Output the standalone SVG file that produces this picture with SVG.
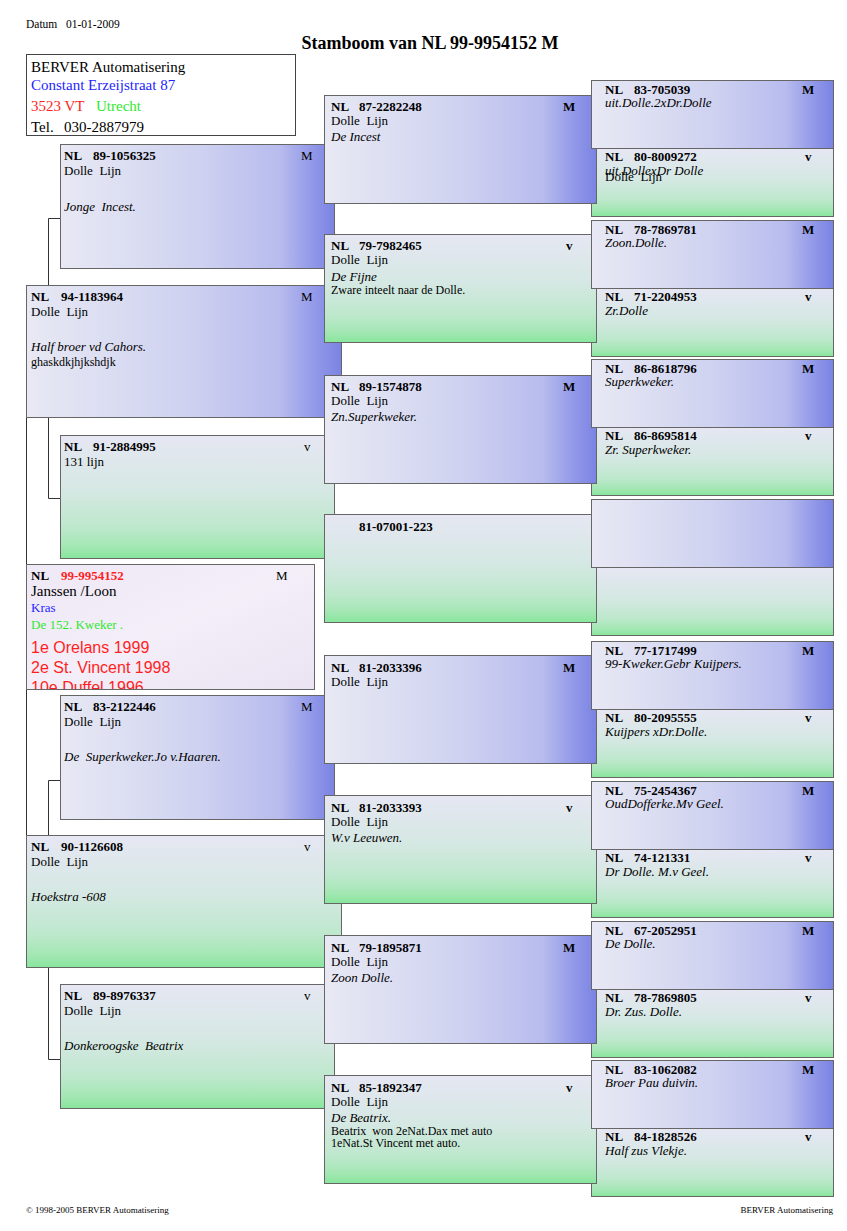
<svg xmlns="http://www.w3.org/2000/svg" width="847" height="1231" viewBox="0 0 847 1231">
<style>
.t{font-family:"Liberation Serif","Times New Roman",serif;font-size:13px;fill:#000}
.b{font-weight:bold}
.i{font-style:italic}
.s{font-size:12px}
.box{stroke:#666;stroke-width:1}
.m{fill:url(#gM)}
.v{fill:url(#gV)}
.con{fill:none;stroke:#333;stroke-width:1}
</style>
<defs>
<linearGradient id="gM" x1="0" y1="0" x2="1" y2="0">
<stop offset="0" stop-color="#e8e9f4"/>
<stop offset="0.5" stop-color="#cfd2f0"/>
<stop offset="0.8" stop-color="#b8bcee"/>
<stop offset="0.92" stop-color="#9198e8"/>
<stop offset="1" stop-color="#7a83e3"/>
</linearGradient>
<linearGradient id="gV" x1="0" y1="0" x2="0" y2="1">
<stop offset="0" stop-color="#e6e7f3"/>
<stop offset="0.45" stop-color="#d5e8e3"/>
<stop offset="0.75" stop-color="#bde8cc"/>
<stop offset="0.9" stop-color="#a4e7b4"/>
<stop offset="1" stop-color="#88e69c"/>
</linearGradient>
<linearGradient id="gS" x1="0" y1="0" x2="1" y2="1">
<stop offset="0" stop-color="#efe8f6"/>
<stop offset="0.5" stop-color="#f3eef8"/>
<stop offset="1" stop-color="#ebe3f3"/>
</linearGradient>
<clipPath id="clipS"><rect x="26" y="564" width="289" height="125"/></clipPath>
</defs>
<rect width="847" height="1231" fill="#fff"/>

<text class="t" x="26" y="28" style="font-size:11.5px">Datum</text>
<text class="t" x="66" y="28" style="font-size:11.5px">01-01-2009</text>
<text class="t b" x="430" y="49" text-anchor="middle" style="font-size:18px">Stamboom van NL 99-9954152 M</text>

<g id="address">
<rect x="26.5" y="54.5" width="269" height="81" fill="#fff" stroke="#444"/>
<text class="t" x="31" y="72" style="font-size:15px">BERVER Automatisering</text>
<text class="t" x="31" y="90" style="font-size:15px;fill:#1f1fff">Constant Erzeijstraat 87</text>
<text class="t" x="31" y="111" style="font-size:15px;fill:#ff1f1f">3523 VT</text>
<text class="t" x="96" y="111" style="font-size:15px;fill:#2ee82e">Utrecht</text>
<text class="t" x="31" y="132" style="font-size:15px">Tel.</text>
<text class="t" x="64" y="132" style="font-size:15px">030-2887979</text>
</g>

<g id="connectors">
<path class="con" d="M60,218.5 H48.5 V498.5 H60"/>
<path class="con" d="M60,780.5 H48.5 V1059.5 H60"/>
<path class="con" d="M26.5,351 V901"/>
</g>

<!-- generation 2 -->
<g id="n-94-1183964">
<rect class="box m" x="26.5" y="285.5" width="315" height="132"/>
<text class="t b" x="31" y="301">NL</text><text class="t b" x="61" y="301">94-1183964</text><text class="t" x="301" y="301">M</text>
<text class="t" x="31" y="316">Dolle&#160; Lijn</text>
<text class="t i" x="31" y="351">Half broer vd Cahors.</text>
<text class="t s" x="31" y="366">ghaskdkjhjkshdjk</text>
</g>
<g id="n-90-1126608">
<rect class="box v" x="26.5" y="835.5" width="315" height="132"/>
<text class="t b" x="31" y="851">NL</text><text class="t b" x="61" y="851">90-1126608</text><text class="t" x="304" y="851">v</text>
<text class="t" x="31" y="866">Dolle&#160; Lijn</text>
<text class="t i" x="31" y="901">Hoekstra -608</text>
</g>

<!-- subject -->
<g id="n-99-9954152">
<rect class="box" x="26.5" y="564.5" width="288" height="125" fill="url(#gS)" stroke="#444"/>
<g clip-path="url(#clipS)">
<text class="t b" x="31" y="580">NL</text><text class="t b" x="61" y="580" style="fill:#ff1f1f">99-9954152</text><text class="t" x="276" y="580">M</text>
<text class="t" x="31" y="596" style="font-size:15px">Janssen /Loon</text>
<text class="t" x="31" y="612" style="fill:#1f1fff">Kras</text>
<text class="t" x="31" y="629" style="fill:#2ee82e">De 152. Kweker .</text>
<text x="31" y="653" style="font-family:'Liberation Sans',Arial,sans-serif;font-size:16px;fill:#ff1f1f">1e Orelans 1999</text>
<text x="31" y="673" style="font-family:'Liberation Sans',Arial,sans-serif;font-size:16px;fill:#ff1f1f">2e St. Vincent 1998</text>
<text x="31" y="693" style="font-family:'Liberation Sans',Arial,sans-serif;font-size:16px;fill:#ff1f1f">10e Duffel 1996</text>
</g>
</g>

<!-- generation 3 -->
<g id="n-89-1056325">
<rect class="box m" x="60.5" y="144.5" width="274" height="124"/>
<text class="t b" x="64" y="160">NL</text><text class="t b" x="93" y="160">89-1056325</text><text class="t" x="301" y="160">M</text>
<text class="t" x="64" y="175">Dolle&#160; Lijn</text>
<text class="t i" x="64" y="211">Jonge&#160; Incest.</text>
</g>
<g id="n-91-2884995">
<rect class="box v" x="60.5" y="435.5" width="274" height="123"/>
<text class="t b" x="64" y="451">NL</text><text class="t b" x="93" y="451">91-2884995</text><text class="t" x="304" y="451">v</text>
<text class="t" x="64" y="466">131 lijn</text>
</g>
<g id="n-83-2122446">
<rect class="box m" x="60.5" y="695.5" width="274" height="124"/>
<text class="t b" x="64" y="711">NL</text><text class="t b" x="93" y="711">83-2122446</text><text class="t" x="301" y="711">M</text>
<text class="t" x="64" y="726">Dolle&#160; Lijn</text>
<text class="t i" x="64" y="761">De&#160; Superkweker.Jo v.Haaren.</text>
</g>
<g id="n-89-8976337">
<rect class="box v" x="60.5" y="984.5" width="274" height="124"/>
<text class="t b" x="64" y="1000">NL</text><text class="t b" x="93" y="1000">89-8976337</text><text class="t" x="304" y="1000">v</text>
<text class="t" x="64" y="1015">Dolle&#160; Lijn</text>
<text class="t i" x="64" y="1050">Donkeroogske&#160; Beatrix</text>
</g>

<!-- generation 5 hens (drawn beneath gen 4) -->
<g id="n-80-8009272">
<rect class="box v" x="591.5" y="148.5" width="242" height="68"/>
<text class="t b" x="605" y="161">NL</text><text class="t b" x="634" y="161">80-8009272</text><text class="t b" x="805" y="161">v</text>
<text class="t i" x="605" y="174.5">uit.DollexDr Dolle</text>
<text class="t" x="605" y="181">Dolle&#160; Lijn</text>
</g>
<g id="n-71-2204953">
<rect class="box v" x="591.5" y="288.5" width="242" height="68"/>
<text class="t b" x="605" y="301">NL</text><text class="t b" x="634" y="301">71-2204953</text><text class="t b" x="805" y="301">v</text>
<text class="t i" x="605" y="314.5">Zr.Dolle</text>
</g>
<g id="n-86-8695814">
<rect class="box v" x="591.5" y="427.5" width="242" height="68"/>
<text class="t b" x="605" y="440">NL</text><text class="t b" x="634" y="440">86-8695814</text><text class="t b" x="805" y="440">v</text>
<text class="t i" x="605" y="453.5">Zr. Superkweker.</text>
</g>
<g id="n-empty-v">
<rect class="box v" x="591.5" y="567.5" width="242" height="68"/>
</g>
<g id="n-80-2095555">
<rect class="box v" x="591.5" y="709.5" width="242" height="68"/>
<text class="t b" x="605" y="722">NL</text><text class="t b" x="634" y="722">80-2095555</text><text class="t b" x="805" y="722">v</text>
<text class="t i" x="605" y="735.5">Kuijpers xDr.Dolle.</text>
</g>
<g id="n-74-121331">
<rect class="box v" x="591.5" y="849.5" width="242" height="68"/>
<text class="t b" x="605" y="862">NL</text><text class="t b" x="634" y="862">74-121331</text><text class="t b" x="805" y="862">v</text>
<text class="t i" x="605" y="875.5">Dr Dolle. M.v Geel.</text>
</g>
<g id="n-78-7869805">
<rect class="box v" x="591.5" y="989.5" width="242" height="68"/>
<text class="t b" x="605" y="1002">NL</text><text class="t b" x="634" y="1002">78-7869805</text><text class="t b" x="805" y="1002">v</text>
<text class="t i" x="605" y="1015.5">Dr. Zus. Dolle.</text>
</g>
<g id="n-84-1828526">
<rect class="box v" x="591.5" y="1128.5" width="242" height="68"/>
<text class="t b" x="605" y="1141">NL</text><text class="t b" x="634" y="1141">84-1828526</text><text class="t b" x="805" y="1141">v</text>
<text class="t i" x="605" y="1154.5">Half zus Vlekje.</text>
</g>

<!-- generation 4 -->
<g id="n-87-2282248">
<rect class="box m" x="324.5" y="95.5" width="272" height="108"/>
<text class="t b" x="331" y="111">NL</text><text class="t b" x="359" y="111">87-2282248</text><text class="t b" x="563" y="111">M</text>
<text class="t" x="331" y="125">Dolle&#160; Lijn</text>
<text class="t i" x="331" y="141">De Incest</text>
</g>
<g id="n-79-7982465">
<rect class="box v" x="324.5" y="234.5" width="272" height="108"/>
<text class="t b" x="331" y="250">NL</text><text class="t b" x="359" y="250">79-7982465</text><text class="t b" x="566" y="250">v</text>
<text class="t" x="331" y="264">Dolle&#160; Lijn</text>
<text class="t i" x="331" y="280.5">De Fijne</text>
<text class="t s" x="331" y="294">Zware inteelt naar de Dolle.</text>
</g>
<g id="n-89-1574878">
<rect class="box m" x="324.5" y="375.5" width="272" height="108"/>
<text class="t b" x="331" y="391">NL</text><text class="t b" x="359" y="391">89-1574878</text><text class="t b" x="563" y="391">M</text>
<text class="t" x="331" y="405">Dolle&#160; Lijn</text>
<text class="t i" x="331" y="421">Zn.Superkweker.</text>
</g>
<g id="n-81-07001-223">
<rect class="box v" x="324.5" y="514.5" width="272" height="108"/>
<text class="t b" x="359" y="531">81-07001-223</text>
</g>
<g id="n-81-2033396">
<rect class="box m" x="324.5" y="655.5" width="272" height="108"/>
<text class="t b" x="331" y="672">NL</text><text class="t b" x="359" y="672">81-2033396</text><text class="t b" x="563" y="672">M</text>
<text class="t" x="331" y="686">Dolle&#160; Lijn</text>
</g>
<g id="n-81-2033393">
<rect class="box v" x="324.5" y="795.5" width="272" height="108"/>
<text class="t b" x="331" y="812">NL</text><text class="t b" x="359" y="812">81-2033393</text><text class="t b" x="566" y="812">v</text>
<text class="t" x="331" y="826">Dolle&#160; Lijn</text>
<text class="t i" x="331" y="842">W.v Leeuwen.</text>
</g>
<g id="n-79-1895871">
<rect class="box m" x="324.5" y="935.5" width="272" height="108"/>
<text class="t b" x="331" y="952">NL</text><text class="t b" x="359" y="952">79-1895871</text><text class="t b" x="563" y="952">M</text>
<text class="t" x="331" y="966">Dolle&#160; Lijn</text>
<text class="t i" x="331" y="982">Zoon Dolle.</text>
</g>
<g id="n-85-1892347">
<rect class="box v" x="324.5" y="1075.5" width="272" height="108"/>
<text class="t b" x="331" y="1092">NL</text><text class="t b" x="359" y="1092">85-1892347</text><text class="t b" x="566" y="1092">v</text>
<text class="t" x="331" y="1106">Dolle&#160; Lijn</text>
<text class="t i" x="331" y="1122">De Beatrix.</text>
<text class="t s" x="331" y="1135">Beatrix&#160; won 2eNat.Dax met auto</text>
<text class="t s" x="331" y="1147">1eNat.St Vincent met auto.</text>
</g>

<!-- generation 5 cocks (drawn above gen 4) -->
<g id="n-83-705039">
<rect class="box m" x="591.5" y="80.5" width="242" height="68"/>
<text class="t b" x="605" y="93.5">NL</text><text class="t b" x="634" y="93.5">83-705039</text><text class="t b" x="802" y="93.5">M</text>
<text class="t i" x="605" y="106.5">uit.Dolle.2xDr.Dolle</text>
</g>
<g id="n-78-7869781">
<rect class="box m" x="591.5" y="220.5" width="242" height="68"/>
<text class="t b" x="605" y="233.5">NL</text><text class="t b" x="634" y="233.5">78-7869781</text><text class="t b" x="802" y="233.5">M</text>
<text class="t i" x="605" y="246.5">Zoon.Dolle.</text>
</g>
<g id="n-86-8618796">
<rect class="box m" x="591.5" y="359.5" width="242" height="68"/>
<text class="t b" x="605" y="372.5">NL</text><text class="t b" x="634" y="372.5">86-8618796</text><text class="t b" x="802" y="372.5">M</text>
<text class="t i" x="605" y="385.5">Superkweker.</text>
</g>
<g id="n-empty-m">
<rect class="box m" x="591.5" y="499.5" width="242" height="68"/>
</g>
<g id="n-77-1717499">
<rect class="box m" x="591.5" y="641.5" width="242" height="68"/>
<text class="t b" x="605" y="654.5">NL</text><text class="t b" x="634" y="654.5">77-1717499</text><text class="t b" x="802" y="654.5">M</text>
<text class="t i" x="605" y="667.5">99-Kweker.Gebr Kuijpers.</text>
</g>
<g id="n-75-2454367">
<rect class="box m" x="591.5" y="781.5" width="242" height="68"/>
<text class="t b" x="605" y="794.5">NL</text><text class="t b" x="634" y="794.5">75-2454367</text><text class="t b" x="802" y="794.5">M</text>
<text class="t i" x="605" y="807.5">OudDofferke.Mv Geel.</text>
</g>
<g id="n-67-2052951">
<rect class="box m" x="591.5" y="921.5" width="242" height="68"/>
<text class="t b" x="605" y="934.5">NL</text><text class="t b" x="634" y="934.5">67-2052951</text><text class="t b" x="802" y="934.5">M</text>
<text class="t i" x="605" y="947.5">De Dolle.</text>
</g>
<g id="n-83-1062082">
<rect class="box m" x="591.5" y="1060.5" width="242" height="68"/>
<text class="t b" x="605" y="1073.5">NL</text><text class="t b" x="634" y="1073.5">83-1062082</text><text class="t b" x="802" y="1073.5">M</text>
<text class="t i" x="605" y="1086.5">Broer Pau duivin.</text>
</g>

<text class="t" x="26" y="1213" style="font-size:9px">© 1998-2005 BERVER Automatisering</text>
<text class="t" x="833" y="1213" text-anchor="end" style="font-size:9px">BERVER Automatisering</text>
</svg>
